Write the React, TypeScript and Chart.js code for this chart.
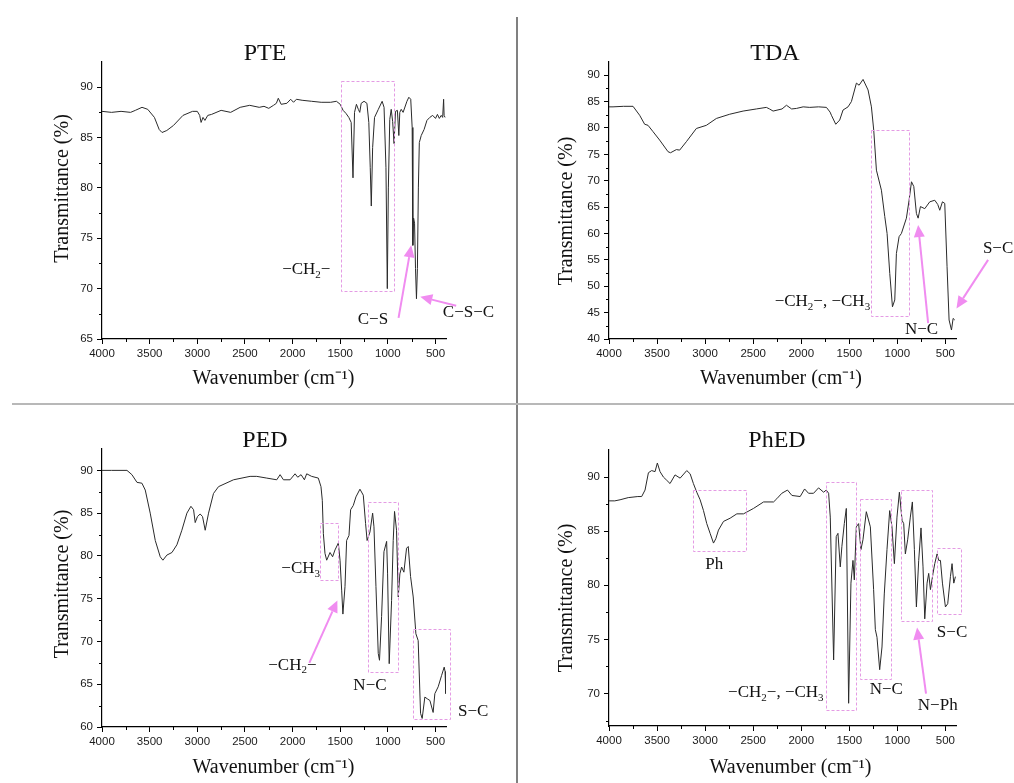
import React, { useEffect, useRef } from 'react';
import { Chart, registerables } from 'chart.js';

Chart.register(...registerables);

// ---------- shared axis data ----------
const X_TICKS = [4000, 3500, 3000, 2500, 2000, 1500, 1000, 500];
const X_MIN = 390;
const X_MAX = 4000;
const X_MINOR_STEP = 250;
const Y_MINOR_STEP = 2.5;

// ---------- PTE ----------
const PTE_WN = [4000, 3900, 3800, 3700, 3650, 3580, 3520, 3450, 3400, 3370, 3320, 3250, 3150, 3050, 3000, 2975, 2960, 2940, 2920, 2890, 2850, 2750, 2650, 2550, 2450, 2350, 2300, 2250, 2200, 2170, 2150, 2120, 2060, 2020, 1990, 1960, 1900, 1800, 1700, 1600, 1540, 1500, 1470, 1440, 1410, 1385, 1366, 1350, 1330, 1310, 1295, 1280, 1250, 1220, 1200, 1185, 1174, 1160, 1140, 1100, 1060, 1040, 1020, 1006, 995, 980, 965, 950, 935, 920, 900, 885, 875, 860, 840, 800, 780, 760, 745, 738, 730, 720, 710, 700, 690, 680, 670, 650, 620, 590, 560, 530, 500, 480, 460, 440, 425, 415, 410, 400];
const PTE_T = [87.6, 87.5, 87.6, 87.5, 87.7, 88.0, 87.8, 87.0, 85.8, 85.5, 85.7, 86.2, 87.2, 87.6, 87.6, 87.2, 86.5, 87.0, 86.7, 87.2, 87.3, 87.7, 87.5, 88.0, 88.2, 88.0, 88.1, 87.9, 88.2, 88.4, 88.9, 88.3, 88.4, 88.8, 88.5, 88.8, 88.7, 88.6, 88.5, 88.5, 88.6, 88.3, 87.7, 87.4, 87.0, 86.5, 81.0, 87.5, 88.3, 87.8, 87.5, 88.4, 88.6, 88.4, 86.5, 82.0, 78.2, 84.0, 87.0, 87.8, 88.6, 88.0, 82.0, 70.0, 80.0, 86.8, 87.8, 86.6, 84.4, 87.6, 87.7, 85.2, 87.5, 87.8, 87.5, 88.6, 89.0, 88.8, 86.0, 74.3, 77.0, 76.5, 72.0, 69.0, 72.0, 80.0, 84.5, 85.2, 85.8, 86.7, 87.0, 87.2, 86.9, 87.3, 86.9, 87.2, 87.0, 88.8, 87.2, 87.0];
const PTE_Y_TICKS = [65, 70, 75, 80, 85, 90];
// [wavenumber from, wavenumber to, T top, T bottom]
const PTE_BOXES = [[1496, 937, 90.6, 69.8]];
// [tail wn, tail T, tip wn, tip T]
const PTE_ARROWS = [[888, 67.1, 755, 74.3], [283, 68.3, 660, 69.2]];
// [text, wn, T]  ("_2" = subscript 2)
const PTE_LABELS: [string, number, number][] = [['−CH_2−', 1856, 71.85], ['C−S', 1157, 66.9], ['C−S−C', 154, 67.6]];

// ---------- TDA ----------
const TDA_WN = [4000, 3958, 3850, 3750, 3681, 3629, 3594, 3542, 3473, 3386, 3360, 3299, 3265, 3195, 3091, 2987, 2883, 2744, 2605, 2467, 2363, 2330, 2293, 2200, 2154, 2100, 2050, 1980, 1912, 1820, 1738, 1700, 1686, 1641, 1600, 1565, 1513, 1478, 1426, 1398, 1357, 1305, 1270, 1246, 1218, 1166, 1131, 1107, 1079, 1051, 1027, 1010, 982, 958, 906, 878, 853, 829, 802, 784, 760, 715, 663, 611, 580, 559, 531, 507, 483, 462, 437, 420, 403];
const TDA_T = [84.0, 84.0, 84.1, 84.1, 82.4, 80.7, 80.5, 79.3, 77.7, 75.5, 75.3, 75.9, 75.8, 77.4, 79.9, 80.5, 81.8, 82.6, 83.2, 83.6, 83.9, 83.6, 83.2, 83.6, 84.3, 83.6, 83.7, 84.0, 83.9, 84.0, 83.9, 83.0, 82.4, 80.7, 81.5, 83.4, 84.0, 85.0, 88.5, 88.1, 89.2, 87.2, 84.0, 79.6, 72.0, 68.2, 63.2, 60.0, 52.4, 46.1, 47.4, 56.2, 59.4, 60.0, 62.9, 66.3, 69.8, 68.9, 63.8, 62.9, 65.1, 64.7, 66.0, 66.3, 65.5, 64.4, 66.0, 65.7, 53.7, 43.6, 41.7, 43.9, 43.6];
const TDA_Y_TICKS = [40, 45, 50, 55, 60, 65, 70, 75, 80, 85, 90];
const TDA_BOXES = [[1270, 871, 79.7, 44.5]];
const TDA_ARROWS = [[680, 43.0, 784, 61.6], [56, 55.0, 385, 45.8]];
const TDA_LABELS: [string, number, number][] = [['−CH_2−, −CH_3', 1780, 47.1], ['N−C', 749, 41.7], ['S−C', -48, 57.2]];

// ---------- PED ----------
const PED_WN = [4000, 3900, 3738, 3686, 3633, 3581, 3546, 3494, 3441, 3389, 3361, 3319, 3266, 3214, 3162, 3109, 3067, 3039, 3022, 2998, 2970, 2945, 2917, 2882, 2830, 2777, 2620, 2446, 2376, 2271, 2166, 2131, 2096, 2026, 1974, 1946, 1911, 1876, 1852, 1800, 1730, 1702, 1688, 1677, 1660, 1642, 1607, 1580, 1555, 1520, 1502, 1485, 1472, 1450, 1433, 1408, 1391, 1363, 1335, 1293, 1258, 1234, 1218, 1188, 1160, 1146, 1125, 1101, 1088, 1066, 1041, 1013, 1003, 986, 961, 944, 930, 909, 891, 874, 856, 832, 804, 786, 762, 734, 706, 682, 657, 640, 612, 587, 559, 525, 507, 472, 437, 409, 400, 392];
const PED_T = [90.0, 90.0, 90.0, 89.5, 88.6, 88.5, 87.7, 85.0, 81.8, 79.9, 79.5, 80.1, 80.4, 81.3, 83.0, 85.0, 85.8, 85.4, 83.9, 84.6, 84.9, 84.6, 83.0, 85.0, 87.3, 88.1, 88.9, 89.3, 89.3, 89.1, 88.9, 89.5, 88.9, 88.9, 89.6, 89.2, 89.5, 88.9, 89.6, 89.3, 89.1, 88.1, 86.5, 82.6, 80.3, 79.5, 80.4, 79.9, 80.7, 81.5, 79.5, 76.0, 73.2, 76.4, 81.8, 82.4, 85.4, 85.9, 86.9, 87.8, 87.1, 83.8, 81.8, 82.8, 85.0, 83.4, 76.4, 68.6, 67.8, 72.9, 80.5, 81.7, 77.9, 67.4, 74.8, 81.8, 85.2, 83.0, 75.2, 77.9, 78.7, 78.1, 80.9, 81.1, 77.6, 75.2, 70.9, 70.1, 61.6, 61.0, 63.5, 63.3, 63.1, 61.7, 63.9, 64.7, 66.0, 67.0, 66.5, 63.9];
const PED_Y_TICKS = [60, 65, 70, 75, 80, 85, 90];
const PED_BOXES = [[1712, 1520, 83.9, 77.2], [1213, 902, 86.3, 66.4], [734, 343, 71.4, 60.9]];
const PED_ARROWS = [[1824, 67.5, 1530, 74.8]];
const PED_LABELS: [string, number, number][] = [['−CH_3', 1915, 78.5], ['−CH_2−', 2002, 67.2], ['N−C', 1188, 64.9], ['S−C', 105, 61.8]];

// ---------- PhED ----------
const PHED_WN = [4000, 3940, 3885, 3800, 3700, 3660, 3625, 3590, 3556, 3521, 3497, 3469, 3434, 3399, 3365, 3313, 3260, 3191, 3156, 3122, 3087, 3052, 3017, 2983, 2948, 2913, 2889, 2861, 2809, 2740, 2670, 2601, 2497, 2392, 2288, 2254, 2202, 2143, 2097, 2011, 1965, 1924, 1872, 1820, 1767, 1740, 1715, 1698, 1663, 1636, 1618, 1594, 1577, 1552, 1531, 1507, 1483, 1462, 1448, 1427, 1403, 1379, 1358, 1323, 1281, 1247, 1229, 1212, 1184, 1160, 1136, 1108, 1080, 1056, 1031, 1004, 979, 951, 934, 917, 893, 865, 844, 823, 802, 778, 754, 733, 715, 691, 674, 656, 629, 611, 587, 570, 552, 531, 500, 476, 448, 431, 413, 396];
const PHED_T = [87.8, 87.8, 87.9, 88.1, 88.2, 88.2, 88.8, 90.4, 90.6, 90.5, 91.3, 90.5, 90.0, 89.7, 89.4, 90.2, 89.9, 90.6, 90.3, 89.4, 88.6, 87.9, 86.9, 85.7, 84.8, 83.9, 84.3, 85.1, 85.9, 86.2, 86.6, 86.6, 87.1, 87.7, 87.7, 88.0, 88.5, 88.8, 88.3, 88.2, 88.9, 88.5, 88.5, 89.0, 88.6, 88.8, 88.5, 86.3, 73.1, 84.5, 84.8, 81.7, 83.6, 85.7, 87.1, 69.1, 80.2, 82.3, 80.5, 85.4, 85.7, 83.3, 84.2, 86.8, 85.4, 79.6, 75.9, 75.2, 72.2, 74.3, 79.2, 83.3, 86.9, 85.4, 82.0, 86.3, 88.6, 86.0, 85.7, 82.9, 84.2, 86.3, 87.7, 83.3, 78.0, 82.3, 85.3, 81.7, 76.9, 80.2, 81.1, 79.6, 81.1, 82.0, 82.9, 82.3, 82.3, 80.2, 78.0, 78.3, 80.8, 82.0, 80.2, 80.8];
const PHED_Y_TICKS = [70, 75, 80, 85, 90];
const PHED_BOXES = [[3129, 2576, 88.8, 83.2], [1743, 1431, 89.5, 68.4], [1393, 1073, 88.0, 71.4], [959, 639, 88.8, 76.7], [587, 334, 83.4, 77.3]];
const PHED_ARROWS = [[702, 70.0, 795, 76.1]];
const PHED_LABELS: [string, number, number][] = [['Ph', 2906, 81.9], ['−CH_2−, −CH_3', 2264, 70.06], ['N−C', 1115, 70.4], ['N−Ph', 580, 68.9], ['S−C', 431, 75.6]];

// ---------- styling ----------
const SANS = '"Liberation Sans", Arial, sans-serif';
const SERIF = '"Liberation Serif", "Times New Roman", serif';
const LINE_COLOR = '#2a2a2a';
const ANNOT_BOX_COLOR = '#e49be4';
const ANNOT_ARROW_COLOR = '#f08cf0';

type Rect = { x: number; y: number; w: number; h: number };
type Area = { l: number; t: number; r: number; b: number };
type PanelDef = {
  key: string;
  title: string;
  wn: number[];
  tr: number[];
  yMin: number;
  yMax: number;
  yTicks: number[];
  boxes: number[][];
  arrows: number[][];
  labels: [string, number, number][];
  canvas: Rect;
  area: Area;
  titlePos: [number, number];
  yTitlePos: [number, number];
  xTitlePos: [number, number];
};

const PANELS: PanelDef[] = [
  {
    key: 'pte', title: 'PTE', wn: PTE_WN, tr: PTE_T, yMin: 65, yMax: 92.5, yTicks: PTE_Y_TICKS,
    boxes: PTE_BOXES, arrows: PTE_ARROWS, labels: PTE_LABELS,
    canvas: { x: 0, y: 0, w: 516, h: 403 }, area: { l: 102, t: 62, r: 446, b: 339 },
    titlePos: [265, 59.5], yTitlePos: [62.5, 188.5], xTitlePos: [273.5, 383.5],
  },
  {
    key: 'tda', title: 'TDA', wn: TDA_WN, tr: TDA_T, yMin: 40, yMax: 92.5, yTicks: TDA_Y_TICKS,
    boxes: TDA_BOXES, arrows: TDA_ARROWS, labels: TDA_LABELS,
    canvas: { x: 518, y: 0, w: 496, h: 403 }, area: { l: 609, t: 62, r: 956, b: 339 },
    titlePos: [775, 59.5], yTitlePos: [566.5, 211], xTitlePos: [781, 383.5],
  },
  {
    key: 'ped', title: 'PED', wn: PED_WN, tr: PED_T, yMin: 60, yMax: 92.5, yTicks: PED_Y_TICKS,
    boxes: PED_BOXES, arrows: PED_ARROWS, labels: PED_LABELS,
    canvas: { x: 0, y: 405, w: 516, h: 378 }, area: { l: 102, t: 449, r: 446, b: 727 },
    titlePos: [265, 446.5], yTitlePos: [62.5, 584], xTitlePos: [273.5, 772.5],
  },
  {
    key: 'phed', title: 'PhED', wn: PHED_WN, tr: PHED_T, yMin: 67, yMax: 92.5, yTicks: PHED_Y_TICKS,
    boxes: PHED_BOXES, arrows: PHED_ARROWS, labels: PHED_LABELS,
    canvas: { x: 518, y: 405, w: 496, h: 378 }, area: { l: 609, t: 450, r: 956, b: 726 },
    titlePos: [777, 446.5], yTitlePos: [566.5, 598], xTitlePos: [790.5, 772.5],
  },
];

function drawRich(ctx: CanvasRenderingContext2D, text: string, cx: number, cy: number, size: number) {
  const segs = text.split(/(_\d)/).filter(Boolean).map((s) =>
    s.startsWith('_') ? { t: s.slice(1), sub: true } : { t: s, sub: false }
  );
  const mainFont = `${size}px ${SERIF}`;
  const subFont = `${Math.round(size * 0.66)}px ${SERIF}`;
  let total = 0;
  for (const s of segs) {
    ctx.font = s.sub ? subFont : mainFont;
    total += ctx.measureText(s.t).width;
  }
  let x = cx - total / 2;
  ctx.textAlign = 'left';
  ctx.textBaseline = 'middle';
  for (const s of segs) {
    ctx.font = s.sub ? subFont : mainFont;
    ctx.fillText(s.t, x, s.sub ? cy + size * 0.3 : cy);
    x += ctx.measureText(s.t).width;
  }
}

function makeDecor(p: PanelDef) {
  return {
    id: 'decor_' + p.key,
    afterDraw(chart: any) {
      const ctx: CanvasRenderingContext2D = chart.ctx;
      const xs = chart.scales.x;
      const ys = chart.scales.y;
      const area = chart.chartArea;
      const X = (w: number) => xs.getPixelForValue(w);
      const Y = (t: number) => ys.getPixelForValue(t);
      const ox = p.canvas.x;
      const oy = p.canvas.y;
      ctx.save();

      // minor ticks
      ctx.strokeStyle = '#000';
      ctx.lineWidth = 1;
      ctx.beginPath();
      for (let v = X_MAX - X_MINOR_STEP; v >= X_MIN; v -= 2 * X_MINOR_STEP) {
        const x = Math.round(X(v)) + 0.5;
        ctx.moveTo(x, area.bottom);
        ctx.lineTo(x, area.bottom + 3);
      }
      for (let v = p.yTicks[0] - Y_MINOR_STEP; v < p.yMax; v += 2 * Y_MINOR_STEP) {
        if (v < p.yMin) continue;
        const y = Math.round(Y(v)) + 0.5;
        ctx.moveTo(area.left, y);
        ctx.lineTo(area.left - 3, y);
      }
      ctx.stroke();

      // titles
      ctx.fillStyle = '#111';
      ctx.font = `24px ${SERIF}`;
      ctx.textAlign = 'center';
      ctx.textBaseline = 'alphabetic';
      ctx.fillText(p.title, p.titlePos[0] - ox, p.titlePos[1] - oy);

      ctx.font = `20px ${SERIF}`;
      ctx.fillText('Wavenumber (cm⁻¹)', p.xTitlePos[0] - ox, p.xTitlePos[1] - oy);

      ctx.save();
      ctx.translate(p.yTitlePos[0] - ox, p.yTitlePos[1] - oy);
      ctx.rotate(-Math.PI / 2);
      ctx.textBaseline = 'middle';
      ctx.fillText('Transmittance (%)', 0, 0);
      ctx.restore();

      // dashed boxes
      ctx.strokeStyle = ANNOT_BOX_COLOR;
      ctx.lineWidth = 1;
      ctx.setLineDash([3, 2]);
      for (const b of p.boxes) {
        const x1 = X(b[0]), x2 = X(b[1]), y1 = Y(b[2]), y2 = Y(b[3]);
        ctx.strokeRect(Math.round(x1) + 0.5, Math.round(y1) + 0.5, Math.round(x2 - x1), Math.round(y2 - y1));
      }
      ctx.setLineDash([]);

      // arrows
      ctx.strokeStyle = ANNOT_ARROW_COLOR;
      ctx.fillStyle = ANNOT_ARROW_COLOR;
      ctx.lineWidth = 2;
      for (const a of p.arrows) {
        const x0 = X(a[0]), y0 = Y(a[1]), x1 = X(a[2]), y1 = Y(a[3]);
        const ang = Math.atan2(y1 - y0, x1 - x0);
        const hl = 12, hw = 5.5;
        const bx = x1 - hl * Math.cos(ang), by = y1 - hl * Math.sin(ang);
        ctx.beginPath();
        ctx.moveTo(x0, y0);
        ctx.lineTo(bx, by);
        ctx.stroke();
        ctx.beginPath();
        ctx.moveTo(x1, y1);
        ctx.lineTo(bx + hw * Math.sin(ang), by - hw * Math.cos(ang));
        ctx.lineTo(bx - hw * Math.sin(ang), by + hw * Math.cos(ang));
        ctx.closePath();
        ctx.fill();
      }

      // labels
      ctx.fillStyle = '#111';
      for (const l of p.labels) {
        drawRich(ctx, l[0], X(l[1]), Y(l[2]), 17);
      }
      ctx.restore();
    },
  };
}

function Panel({ p }: { p: PanelDef }) {
  const ref = useRef<HTMLCanvasElement | null>(null);
  useEffect(() => {
    const c = p.canvas;
    const a = p.area;
    const chart = new Chart(ref.current as HTMLCanvasElement, {
      type: 'line',
      data: {
        datasets: [
          {
            data: p.wn.map((w, i) => ({ x: w, y: p.tr[i] })),
            borderColor: LINE_COLOR,
            borderWidth: 1,
            pointRadius: 0,
            tension: 0,
            fill: false,
          },
        ],
      },
      options: {
        animation: false,
        responsive: false,
        maintainAspectRatio: false,
        events: [],
        layout: { padding: { left: 0, top: a.t - c.y, right: c.x + c.w - a.r, bottom: 0 } },
        plugins: { legend: { display: false }, tooltip: { enabled: false }, title: { display: false } },
        scales: {
          x: {
            type: 'linear',
            reverse: true,
            min: X_MIN,
            max: X_MAX,
            afterBuildTicks: (s: any) => {
              s.ticks = X_TICKS.map((v) => ({ value: v }));
            },
            afterFit: (s: any) => {
              s.height = c.y + c.h - a.b;
              s.paddingLeft = 0;
              s.paddingRight = 0;
            },
            ticks: {
              autoSkip: false,
              maxRotation: 0,
              minRotation: 0,
              padding: 3,
              color: '#1a1a1a',
              font: { family: SANS, size: 11.5 },
              callback: (v: any) => String(v),
            },
            grid: { display: true, drawOnChartArea: false, drawTicks: true, tickLength: 5, color: '#000', lineWidth: 1 },
            border: { display: true, color: '#000', width: 1.2 },
          },
          y: {
            type: 'linear',
            min: p.yMin,
            max: p.yMax,
            afterBuildTicks: (s: any) => {
              s.ticks = p.yTicks.map((v) => ({ value: v }));
            },
            afterFit: (s: any) => {
              s.width = a.l - c.x;
              s.paddingTop = 0;
              s.paddingBottom = 0;
            },
            ticks: {
              autoSkip: false,
              padding: 4,
              color: '#1a1a1a',
              font: { family: SANS, size: 11.5 },
              callback: (v: any) => String(v),
            },
            grid: { display: true, drawOnChartArea: false, drawTicks: true, tickLength: 5, color: '#000', lineWidth: 1 },
            border: { display: true, color: '#000', width: 1.2 },
          },
        },
      },
      plugins: [makeDecor(p)],
    } as any);
    return () => chart.destroy();
  }, [p]);
  return (
    <canvas
      ref={ref}
      width={p.canvas.w}
      height={p.canvas.h}
      style={{ position: 'absolute', left: p.canvas.x, top: p.canvas.y, width: p.canvas.w, height: p.canvas.h }}
    />
  );
}

export default function App() {
  return (
    <div style={{ position: 'fixed', left: 0, top: 0, width: 1014, height: 783, background: '#fff', overflow: 'hidden' }}>
      {PANELS.map((p) => (
        <Panel key={p.key} p={p} />
      ))}
      <div style={{ position: 'absolute', left: 516, top: 17, width: 2, height: 766, background: '#808080' }} />
      <div style={{ position: 'absolute', left: 12, top: 403, width: 1002, height: 2, background: '#b8b8b8' }} />
    </div>
  );
}
